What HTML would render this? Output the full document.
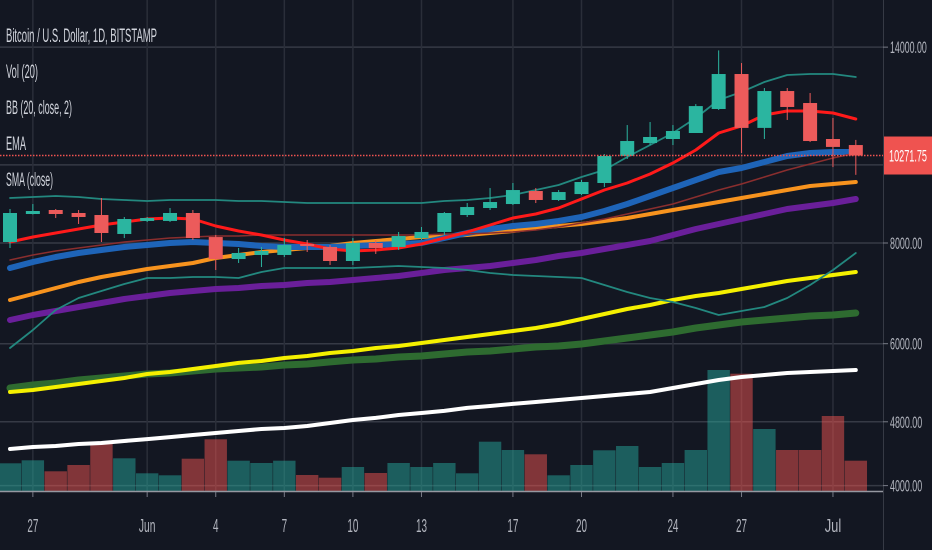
<!DOCTYPE html>
<html><head><meta charset="utf-8"><style>
html,body{margin:0;padding:0;background:#131722;}
svg{display:block;font-family:"Liberation Sans",sans-serif;}
</style></head><body>
<svg id="chart" width="932" height="550" viewBox="0 0 932 550" xmlns="http://www.w3.org/2000/svg">
<rect x="0" y="0" width="932" height="550" fill="#131722"/>
<g id="grid"></g>
<g id="vol"></g>
<g id="lines"></g>
<g id="candles"></g>
<g id="axes"></g>
<g fill="#d1d4dc" font-size="19">
<text x="6" y="42" textLength="151" lengthAdjust="spacingAndGlyphs">Bitcoin / U.S. Dollar, 1D, BITSTAMP</text>
<text x="6" y="78" textLength="32" lengthAdjust="spacingAndGlyphs">Vol (20)</text>
<text x="6" y="114" textLength="66" lengthAdjust="spacingAndGlyphs">BB (20, close, 2)</text>
<text x="6" y="150" textLength="20" lengthAdjust="spacingAndGlyphs">EMA</text>
<text x="6" y="186" textLength="47" lengthAdjust="spacingAndGlyphs">SMA (close)</text>
</g>
</svg>
<script>
const opens  = [8023,8691,8791,8716,8666,8209,8520,8520,8716,8137,7642,7731,7731,7977,7910,7599,8000,7910,8114,8256,8666,8841,8942,9281,9046,9201,9496,10258,10645,10768,10954,11732,12965,11115,12350,11934,10768,10584];
const highs  = [8816,8942,8816,8791,9098,8617,8617,8841,8791,8186,7887,7910,8114,8069,7954,8114,8069,8256,8374,8741,8968,9360,9496,9360,9307,9580,10315,11206,11303,11206,11898,13870,13378,12456,12456,12280,11435,10740];
const lows   = [7887,8680,8592,8447,8023,8114,8495,8495,8069,7406,7556,7470,7686,7797,7513,7513,7753,7843,8069,8186,8617,8791,8917,8968,9020,9175,9388,10170,10584,10584,10954,11700,10345,10768,11370,10675,9938,9720];
const closes = [8716,8766,8691,8617,8232,8568,8592,8716,8114,7642,7775,7820,7954,7932,7599,8000,7887,8161,8256,8716,8866,8994,9307,9046,9254,9523,10258,10706,10830,11017,11830,12965,11115,12350,11800,10706,10527,10271.75];
const volumes = [2770,3070,1970,2600,4830,3270,1770,1570,3230,5170,3030,2800,3030,1600,1330,2400,1800,2800,2400,2800,1770,4930,4100,3670,1570,2600,4070,4500,2400,2800,4100,12100,11730,6200,4100,4100,7500,3030];
const bbUpper = [9098,9124,9150,9124,9072,9046,9020,9046,9046,9046,9020,9020,8995,8969,8969,8969,8969,8969,8969,9020,9046,9098,9176,9308,9442,9660,9855,10228,10585,10955,11434,12037,12316,12673,12929,12966,12966,12855];
const bbLower = [5927,6239,6606,6837,6975,7115,7239,7239,7260,7260,7239,7364,7449,7449,7449,7449,7470,7492,7470,7449,7406,7343,7301,7280,7260,7239,7095,6955,6837,6759,6644,6513,6587,6663,6837,7095,7406,7775];
const bbBasis = [7621,7731,7820,7887,7954,8023,8069,8115,8138,8162,8162,8185,8185,8185,8185,8185,8185,8185,8185,8209,8209,8232,8256,8303,8374,8470,8567,8691,8816,8943,9124,9308,9469,9660,9855,10026,10200,10346];
const emaRed = [8023,8138,8232,8327,8422,8494,8567,8592,8567,8398,8280,8185,8069,7977,7865,7820,7842,7887,7977,8115,8256,8422,8592,8691,8842,9072,9308,9496,9744,10054,10435,10955,11175,11532,11665,11665,11599,11401];
const emaBlue = [7449,7578,7687,7775,7842,7909,7954,8000,8023,8000,7977,7932,7909,7909,7909,7932,7954,7977,8000,8115,8232,8327,8398,8446,8519,8617,8766,8943,9150,9361,9578,9800,9912,10083,10258,10346,10376,10376];
const maOrange = [6798,6915,7035,7156,7260,7343,7428,7492,7556,7665,7731,7797,7842,7887,7932,8000,8046,8092,8138,8162,8185,8232,8280,8351,8398,8446,8519,8592,8691,8791,8893,8994,9098,9202,9308,9415,9469,9524];
const maPurple = [6420,6513,6587,6663,6740,6817,6875,6935,6975,7015,7035,7075,7095,7136,7156,7197,7239,7280,7343,7406,7449,7492,7556,7621,7709,7775,7865,7954,8046,8185,8327,8446,8567,8691,8816,8893,8969,9072];
const maYellow = [5226,5256,5302,5347,5394,5440,5503,5534,5582,5630,5679,5711,5760,5793,5843,5876,5927,5961,6012,6064,6116,6169,6221,6275,6347,6439,6532,6625,6701,6798,6875,6935,7015,7095,7177,7239,7301,7364];
const maGreen = [5286,5332,5363,5409,5440,5471,5503,5518,5550,5582,5598,5614,5646,5662,5695,5727,5743,5776,5793,5826,5860,5876,5910,5944,5961,5995,6047,6099,6151,6204,6275,6329,6383,6420,6457,6494,6513,6550];
const maWhite = [4441,4467,4479,4505,4518,4543,4569,4595,4622,4649,4675,4702,4716,4742,4783,4825,4853,4894,4922,4951,4994,5022,5051,5079,5108,5138,5167,5197,5226,5286,5347,5409,5456,5487,5518,5534,5550,5566];
const priceTicks = [14000,10000,8000,6000,4800,4000];
const priceTickLabels = ["14000.00","","8000.00","6000.00","4800.00","4000.00"];
const dateTickIdx = [1,6,9,12,15,18,22,25,29,32,36];
const dateTickLabels = ["27","Jun","4","7","10","13","17","20","24","27","Jul"];
const lastPrice = 10271.75;

const NS="http://www.w3.org/2000/svg";
const xOf = i => 10 + 22.86*i;
const yOf = p => 243 - 350*Math.log(p/8000);
const volY = v => 491 - v/100;
function mk(tag, attrs, parent){const e=document.createElementNS(NS,tag);for(const k in attrs)e.setAttribute(k,attrs[k]);parent.appendChild(e);return e;}
const grid=document.getElementById('grid'), vol=document.getElementById('vol'), lines=document.getElementById('lines'), cg=document.getElementById('candles'), axes=document.getElementById('axes');

priceTicks.forEach((p)=>{
  const l=mk('line',{x1:0,x2:883,y1:yOf(p),y2:yOf(p),stroke:'#363a45','stroke-width':1.5},grid);
  
  
});
dateTickIdx.forEach((i)=>{
  const l=mk('line',{x1:xOf(i),x2:xOf(i),y1:0,y2:491,stroke:'#2a2e39','stroke-width':1.5},grid);
  
  
});

volumes.forEach((v,i)=>{
  const up=closes[i]>=opens[i];
  const r=mk('rect',{x:xOf(i)-11.2,y:volY(v),width:22.4,height:491-volY(v),fill:up?'#26a69a':'#ef5350','fill-opacity':0.5},vol);
  
  
});

function series(arr,color,w,name){
  const d=arr.map((p,i)=>(i?'L':'M')+xOf(i).toFixed(1)+' '+yOf(p).toFixed(1)).join(' ');
  const path=mk('path',{d:d,fill:'none',stroke:color,'stroke-width':w,'stroke-linejoin':'round','stroke-linecap':'round'},lines);
  
  
}
series(maWhite,'#ffffff',4,'sma-white-line');
series(maGreen,'#2e6b30',7,'sma-green-line');
series(maYellow,'#f5f000',4,'sma-yellow-line');
series(maPurple,'#6a1f9a',6,'sma-purple-line');
series(maOrange,'#f7931e',4,'ema-orange-line');
series(emaBlue,'#1e64b8',6,'ema-blue-line');
series(bbBasis,'#8a2e2e',1.5,'bb-basis-line');
series(emaRed,'#ff1a1a',3,'ema-red-line');
series(bbUpper,'#23887f',1.8,'bb-upper-line');
series(bbLower,'#23887f',1.8,'bb-lower-line');

opens.forEach((o,i)=>{
  const c=closes[i], up=c>=o, col=up?'#2bb5a0':'#ec5b5b', x=xOf(i);
  const w=mk('line',{x1:x,x2:x,y1:yOf(highs[i]),y2:yOf(lows[i]),stroke:col,'stroke-width':1},cg);
  
  
  const top=yOf(Math.max(o,c)), bot=yOf(Math.min(o,c));
  const b=mk('rect',{x:x-7,y:top,width:14,height:Math.max(1,bot-top),fill:col},cg);
  
  
});

const pl=mk('line',{x1:0,x2:883,y1:yOf(lastPrice),y2:yOf(lastPrice),stroke:'#ef5350','stroke-width':1.5,'stroke-dasharray':'1.5 1.5'},axes);


const sep=mk('line',{x1:883.5,x2:883.5,y1:0,y2:550,stroke:'#363a45','stroke-width':1},axes);


const bsep=mk('line',{x1:0,x2:883,y1:491.5,y2:491.5,stroke:'#9598a1','stroke-width':1.5},axes);



priceTicks.forEach((p,k)=>{
  if(!priceTickLabels[k])return;
  const y=yOf(p);
  const t=mk('line',{x1:883,x2:888,y1:y,y2:y,stroke:'#787b86','stroke-width':1},axes);
  
  
  const tx=mk('text',{x:890,y:y+6,fill:'#b2b5be','font-size':17,textLength:priceTickLabels[k].length*4.6,lengthAdjust:'spacingAndGlyphs'},axes);
  tx.textContent=priceTickLabels[k];
  
  
});
dateTickIdx.forEach((i,k)=>{
  const x=xOf(i);
  const t=mk('line',{x1:x,x2:x,y1:492,y2:497,stroke:'#787b86','stroke-width':1},axes);
  
  
  const tx=mk('text',{x:x,y:532,fill:'#b2b5be','font-size':18,'text-anchor':'middle',textLength:dateTickLabels[k].length*5.5,lengthAdjust:'spacingAndGlyphs'},axes);
  tx.textContent=dateTickLabels[k];
  
  
});
const ly=yOf(lastPrice);
const box=mk('rect',{x:884,y:ly-19,width:48,height:38,fill:'#ef5350'},axes);


const lt=mk('text',{x:889,y:ly+6,fill:'#ffffff','font-size':17,textLength:38,lengthAdjust:'spacingAndGlyphs'},axes);
lt.textContent=lastPrice.toFixed(2);


</script>
</body></html>
